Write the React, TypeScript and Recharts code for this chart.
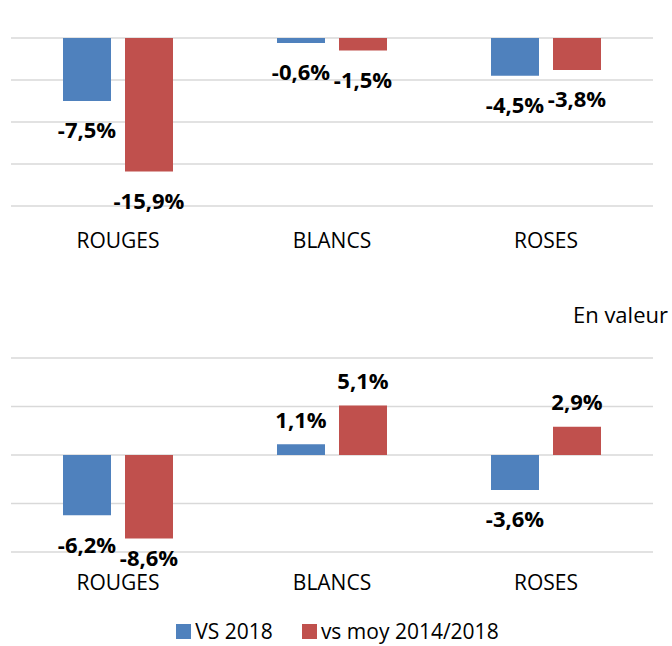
import React from 'react';
import { BarChart, Bar, XAxis, YAxis, CartesianGrid, LabelList, Legend } from 'recharts';

const categories = ['ROUGES', 'BLANCS', 'ROSES'];
const volumeVs2018 = [-7.5, -0.6, -4.5];
const volumeVsMoy = [-15.9, -1.5, -3.8];
const valeurVs2018 = [-6.2, 1.1, -3.6];
const valeurVsMoy = [-8.6, 5.1, 2.9];
const volumeTicks = [-20, -15, -10, -5, 0];
const valeurTicks = [-10, -5, 0, 5, 10];
const seriesNames = ['VS 2018', 'vs moy 2014/2018'];
const seriesColors = ['#4f81bd', '#c0504d'];
const titleValeur = 'En valeur';

const volumeData = categories.map((c, i) => ({ category: c, vs2018: volumeVs2018[i], vsMoy: volumeVsMoy[i] }));
const valeurData = categories.map((c, i) => ({ category: c, vs2018: valeurVs2018[i], vsMoy: valeurVsMoy[i] }));

const FONT = "'Open Sans', sans-serif";
const fmt = (v: number) => v.toFixed(1).replace('.', ',') + '%';

const makeLabel = (plotBottom: number) => (props: any) => {
  const { x, y, width, height, value } = props;
  const v = Number(value);
  const top = Math.min(y, y + height);
  const bottom = Math.max(y, y + height);
  const cx = x + width / 2;
  const baseline = v < 0 ? Math.min(bottom + 37.4, plotBottom + 14.5) : top - 16.6;
  return (
    <text x={cx} y={baseline} textAnchor="middle" fontFamily={FONT} fontWeight={700} fontSize={22} fill="#000">
      {fmt(v)}
    </text>
  );
};

const makeTick = (dy: number) => (props: any) => {
  const { x, y, payload } = props;
  return (
    <text x={x} y={y + dy} textAnchor="middle" fontFamily={FONT} fontSize={21} fill="#000">
      {payload.value}
    </text>
  );
};

const LegendContent = () => (
  <div style={{ display: 'flex', justifyContent: 'center', alignItems: 'center', height: 22, paddingLeft: 3, fontFamily: FONT, fontSize: 21, color: '#000' }}>
    {seriesNames.map((n, i) => (
      <div key={n} style={{ display: 'flex', alignItems: 'center', marginRight: i === 0 ? 29 : 0 }}>
        <span style={{ display: 'inline-block', width: 15, height: 15, background: seriesColors[i], marginRight: 4 }} />
        <span style={{ lineHeight: '22px', whiteSpace: 'nowrap' }}>{n}</span>
      </div>
    ))}
  </div>
);

export default function App() {
  return (
    <div style={{ position: 'absolute', left: 0, top: 0, width: 672, height: 646, background: '#fff', overflow: 'hidden' }}>
      <div style={{ position: 'absolute', left: 0, top: 0 }}>
        <BarChart width={672} height={260} data={volumeData} margin={{ top: 38, right: 19, bottom: 14, left: 11 }} barSize={48} barGap={14}>
          <CartesianGrid vertical={false} stroke="#d9d9d9" strokeWidth={1.6} />
          <XAxis dataKey="category" height={40} axisLine={false} tickLine={false} tickSize={0} tickMargin={0} tick={makeTick(42)} interval={0} />
          <YAxis hide domain={[-20, 0]} ticks={volumeTicks} />
          <Bar dataKey="vs2018" name={seriesNames[0]} fill={seriesColors[0]} isAnimationActive={false}>
            <LabelList dataKey="vs2018" content={makeLabel(206)} />
          </Bar>
          <Bar dataKey="vsMoy" name={seriesNames[1]} fill={seriesColors[1]} isAnimationActive={false}>
            <LabelList dataKey="vsMoy" content={makeLabel(206)} />
          </Bar>
        </BarChart>
      </div>
      <div style={{ position: 'absolute', right: 4, top: 303, fontFamily: FONT, fontSize: 22, lineHeight: '22px', color: '#000', whiteSpace: 'nowrap' }}>
        {titleValeur}
      </div>
      <div style={{ position: 'absolute', left: 0, top: 300 }}>
        <BarChart width={672} height={346} data={valeurData} margin={{ top: 58, right: 19, bottom: 32, left: 11 }} barSize={48} barGap={14}>
          <CartesianGrid vertical={false} stroke="#d9d9d9" strokeWidth={1.6} />
          <XAxis dataKey="category" height={40} axisLine={false} tickLine={false} tickSize={0} tickMargin={0} tick={makeTick(38.3)} interval={0} />
          <YAxis hide domain={[-10, 10]} ticks={valeurTicks} />
          <Legend verticalAlign="bottom" height={22} content={LegendContent} wrapperStyle={{ left: 0, width: 672, bottom: 4, height: 22 }} />
          <Bar dataKey="vs2018" name={seriesNames[0]} fill={seriesColors[0]} isAnimationActive={false}>
            <LabelList dataKey="vs2018" content={makeLabel(251.7)} />
          </Bar>
          <Bar dataKey="vsMoy" name={seriesNames[1]} fill={seriesColors[1]} isAnimationActive={false}>
            <LabelList dataKey="vsMoy" content={makeLabel(251.7)} />
          </Bar>
        </BarChart>
      </div>
    </div>
  );
}
